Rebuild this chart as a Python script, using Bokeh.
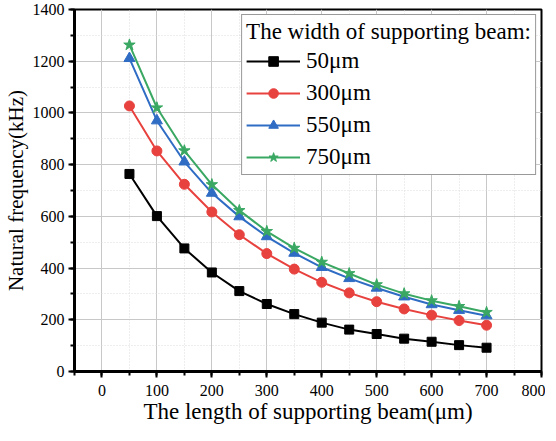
from bokeh.plotting import figure
from bokeh.models import Range1d, Legend, LegendItem, SingleIntervalTicker
from bokeh.embed import file_html
from bokeh.resources import INLINE

lengths = [50, 100, 150, 200, 250, 300, 350, 400, 450, 500, 550, 600, 650, 700]
w50 = [764, 601, 476, 383, 311, 261, 222, 189, 162, 145, 127, 115, 102, 92]
w300 = [1027, 853, 724, 617, 529, 456, 396, 345, 304, 270, 242, 218, 197, 179]
w550 = [1211, 970, 811, 690, 599, 522, 458, 403, 360, 323, 289, 259, 237, 216]
w750 = [1263, 1020, 854, 723, 623, 542, 477, 423, 379, 336, 301, 274, 252, 229]
labels = ["50\u03bcm", "300\u03bcm", "550\u03bcm", "750\u03bcm"]
colors = ["#000000", "#e8423f", "#2f6cc4", "#3aa863"]

FONT = "Liberation Serif"

p = figure(frame_width=467, frame_height=362, output_backend="svg", toolbar_location=None,
           x_range=Range1d(-50, 800), y_range=Range1d(0, 1400),
           min_border_left=69, min_border_right=4, min_border_top=9, min_border_bottom=0)

p.outline_line_color = "black"
p.outline_line_width = 2
p.background_fill_color = "white"

for ax in (p.xaxis[0], p.yaxis[0]):
    ax.axis_line_width = 3
    ax.axis_line_color = "black"
    ax.major_tick_line_width = 2
    ax.minor_tick_line_width = 2
    ax.major_tick_out = 6
    ax.major_tick_in = 0
    ax.minor_tick_out = 4
    ax.minor_tick_in = 0
    ax.major_label_text_font = FONT
    ax.major_label_text_font_size = "16px"
    ax.major_label_text_color = "black"
    ax.axis_label_text_font = FONT
    ax.axis_label_text_font_style = "normal"
    ax.axis_label_text_color = "black"

p.xaxis.ticker = SingleIntervalTicker(interval=100, num_minor_ticks=2)
p.yaxis.ticker = SingleIntervalTicker(interval=200, num_minor_ticks=2)
p.xaxis.axis_label = "The length of supporting beam(\u03bcm)"
p.yaxis.axis_label = "Natural frequency(kHz)"
p.xaxis.axis_label_text_font_size = "23px"
p.yaxis.axis_label_text_font_size = "21px"
p.xaxis.axis_label_standoff = 0
p.yaxis.axis_label_standoff = 2
p.xaxis.major_label_standoff = 7
p.yaxis.major_label_standoff = 4

for g in (p.xgrid[0], p.ygrid[0]):
    g.grid_line_color = "#c8c8c8"
    g.grid_line_width = 1
    g.minor_grid_line_color = "#dcdcdc"
    g.minor_grid_line_dash = "1 2"
    g.minor_grid_line_width = 1

series = [w50, w300, w550, w750]
markers = ["square", "circle", "triangle", "star"]
sizes = [9, 10, 11, 12]
items = []
for ys, lab, c, m, s in zip(series, labels, colors, markers, sizes):
    l = p.line(lengths, ys, line_color=c, line_width=2)
    sc = p.scatter(lengths, ys, marker=m, size=s, fill_color=c, line_color=c)
    items.append(LegendItem(label=lab, renderers=[l, sc]))

legend = Legend(items=items, location="top_right")
legend.title = "The width of supporting beam:"
legend.title_text_font = FONT
legend.title_text_font_size = "23px"
legend.title_text_font_style = "normal"
legend.title_text_color = "black"
legend.label_text_font = FONT
legend.label_text_font_size = "23px"
legend.label_text_color = "black"
legend.border_line_color = "#333333"
legend.border_line_width = 1
legend.background_fill_alpha = 1
legend.glyph_width = 54
legend.glyph_height = 24
legend.label_height = 24
legend.spacing = 6
legend.padding = 4
legend.margin = 5
legend.title_standoff = 3
legend.label_standoff = 6
p.add_layout(legend)

open("out.html", "w").write(file_html(p, INLINE))
